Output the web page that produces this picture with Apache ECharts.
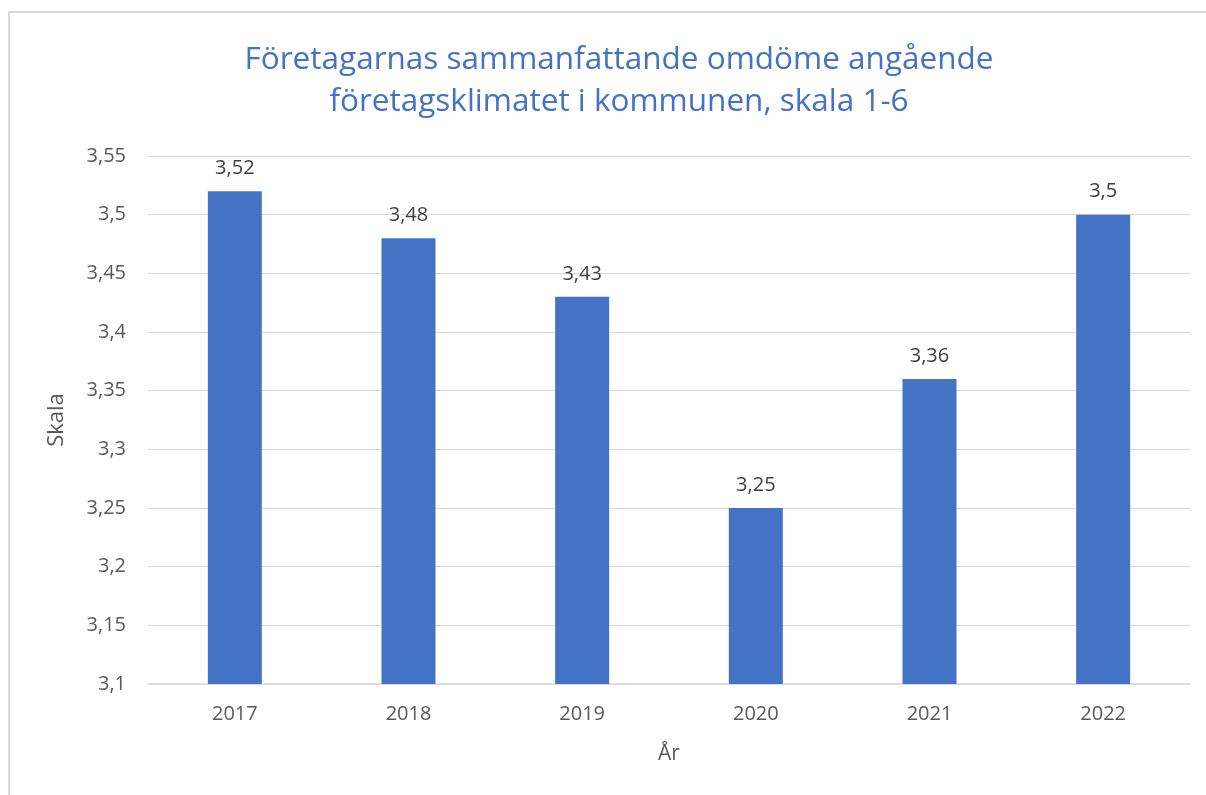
<!DOCTYPE html>
<html>
<head>
<meta charset="utf-8">
<script src="https://cdn.jsdelivr.net/npm/echarts@6/dist/echarts.min.js"></script>
<style>
  html, body { margin: 0; padding: 0; background: #fff; }
  #frame { position: absolute; left: 8px; top: 11px; width: 1210px; height: 800px; border: 2px solid #d9d9d9; box-sizing: border-box; }
  #chart { position: absolute; left: 0; top: 0; width: 1206px; height: 795px; }
</style>
</head>
<body>
<div id="frame"></div>
<div id="chart"></div>
<script>
// data
const years = ['2017', '2018', '2019', '2020', '2021', '2022']
const omdome = [3.52, 3.48, 3.43, 3.25, 3.36, 3.5]

const titleText = 'Företagarnas sammanfattande omdöme angående\nföretagsklimatet i kommunen, skala 1-6'
const fontFam = '"Open Sans", "Noto Sans", sans-serif'

// svensk decimal
const fmt = v => String(+(+v).toFixed(2)).replace('.', ',')

const chart = echarts.init(document.getElementById('chart'))
chart.setOption({
  animation: false,
  textStyle: { fontFamily: fontFam },
  title: {
    text: titleText,
    left: 614,
    textAlign: 'center',
    top: 34,
    textStyle: { color: '#4472C4', fontSize: 31.5, fontWeight: 'normal', lineHeight: 42, fontFamily: fontFam }
  },
  grid: { left: 148, right: 16, top: 156, bottom: 111 },
  xAxis: {
    type: 'category',
    data: years,
    name: 'År',
    nameLocation: 'middle',
    nameGap: 60,
    nameTextStyle: { color: '#595959', fontSize: 21 },
    axisLine: { lineStyle: { color: '#d9d9d9', width: 1.5 } },
    axisTick: { show: false },
    axisLabel: { color: '#595959', fontSize: 20, margin: 20 }
  },
  yAxis: {
    type: 'value',
    min: 3.1,
    max: 3.55,
    interval: 0.05,
    name: 'Skala',
    nameLocation: 'middle',
    nameGap: 80,
    nameTextStyle: { color: '#595959', fontSize: 22 },
    axisLine: { show: false },
    axisTick: { show: false },
    splitLine: { lineStyle: { color: '#d9d9d9', width: 1.2 } },
    axisLabel: { color: '#595959', fontSize: 20, margin: 22, formatter: fmt }
  },
  series: [{
    type: 'bar',
    data: omdome,
    barWidth: 54,
    itemStyle: { color: '#4472C4' },
    label: {
      show: true,
      position: 'top',
      distance: 13,
      color: '#404040',
      fontSize: 20,
      formatter: p => fmt(p.value)
    }
  }]
})
</script>
</body>
</html>
